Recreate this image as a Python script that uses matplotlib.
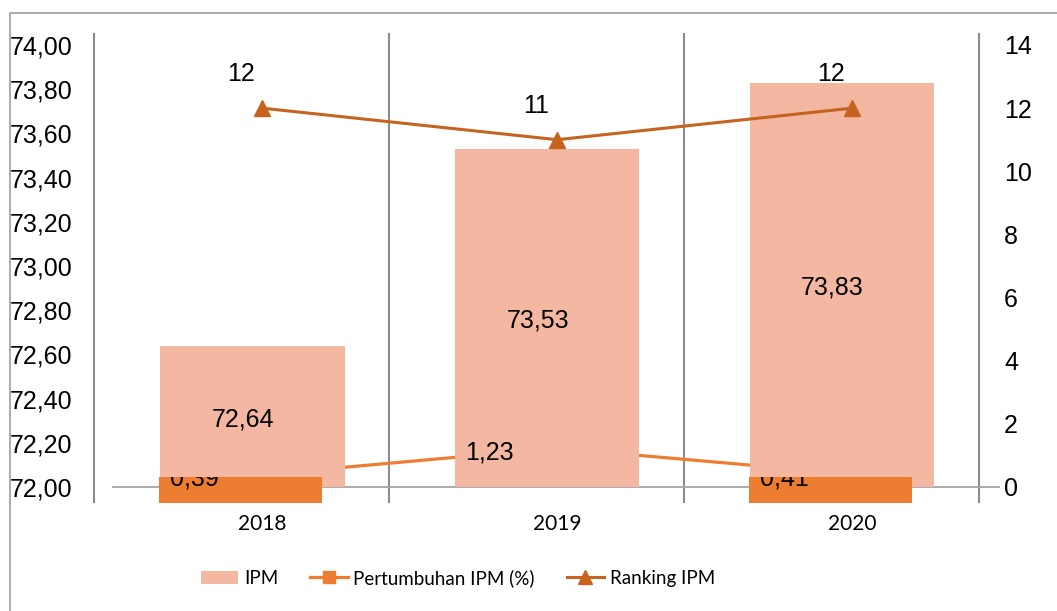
import matplotlib
matplotlib.use('Agg')
import matplotlib.pyplot as plt
from matplotlib.lines import Line2D
from matplotlib.patches import Patch
import numpy as np

# ---- data ----
years = ['2018', '2019', '2020']
ipm = [72.64, 73.53, 73.83]
pertumbuhan = [0.39, 1.23, 0.41]
ranking = [12, 11, 12]
left_ticks = [72.0, 72.2, 72.4, 72.6, 72.8, 73.0, 73.2, 73.4, 73.6, 73.8, 74.0]
right_ticks = [0, 2, 4, 6, 8, 10, 12, 14]
box_cats = [0, 2]  # categories where the growth marker box shows below the axis

# ---- style ----
C_BAR = '#F4B8A2'
C_GROW = '#ED7D31'
C_RANK = '#C5631F'
C_GRID = '#8C8C8C'
NUM_FONT = 'Liberation Sans'
CAT_FONT = 'Lato'

W, H = 1057, 611
fig = plt.figure(figsize=(W / 100, H / 100), dpi=100)
rect = [91 / W, 108 / H, 909 / W, 470 / H]
ax_back = fig.add_axes(rect)
ax_bar = fig.add_axes(rect)
ax_front = fig.add_axes(rect)

x = np.arange(len(years))
XLIM = (-0.58, 2.5017)
for a in (ax_back, ax_bar, ax_front):
    a.set_facecolor('none')
    a.set_xlim(*XLIM)
    for s in a.spines.values():
        s.set_visible(False)
    a.tick_params(length=0)

ax_back.set_ylim(-0.507, 14.38)
ax_front.set_ylim(-0.507, 14.38)
ax_bar.set_ylim(71.928, 74.054)

# back layer: grid, axis line, growth line
for gx in [-0.57, 0.43, 1.43, 2.43]:
    ax_back.axvline(gx, color=C_GRID, lw=1.5, zorder=1)
ax_back.axhline(0, xmin=(113 - 91) / 909, xmax=1, color='#A6A6A6', lw=1.3, zorder=1)
ax_back.plot(x, pertumbuhan, color=C_GROW, lw=2.3, marker='s', ms=9, zorder=2)
ax_back.set_xticks([])
ax_back.set_yticks([])

# bar layer
ax_bar.bar(x - 0.034, np.array(ipm) - 72, bottom=72, width=0.627, color=C_BAR, zorder=2)
ax_bar.set_xticks([])
ax_bar.set_yticks(left_ticks)
ax_bar.set_yticklabels([f"{v:.2f}".replace('.', ',') for v in left_ticks],
                       fontsize=18, family=NUM_FONT)
ax_bar.tick_params(axis='y', pad=13.5)
for i, v in enumerate(ipm):
    ax_bar.annotate(f"{v:.2f}".replace('.', ','), (x[i], (72 + v) / 2),
                    xytext=(-14, -2), textcoords='offset points',
                    ha='center', va='center', fontsize=18, family=NUM_FONT, zorder=5)

# front layer
boxes = ax_front.bar([x[i] - 0.073 for i in box_cats], 0.824, bottom=-0.507,
                     width=0.5525, color=C_GROW, zorder=1)
box_map = {c: b for c, b in zip(box_cats, boxes)}
ax_front.plot(x, ranking, color=C_RANK, lw=2.2, marker='^', ms=12, zorder=3)
for i, v in enumerate(ranking):
    ax_front.annotate(str(v), (x[i], v), xytext=(-15, 24.5), textcoords='offset points',
                      ha='center', va='center', fontsize=18, family=NUM_FONT, zorder=5)
for i, v in enumerate(pertumbuhan):
    t = ax_front.annotate(f"{v:.2f}".replace('.', ','), (x[i], v), xytext=(-49, -3),
                          textcoords='offset points', ha='center', va='center',
                          fontsize=18, family=NUM_FONT, zorder=5)
    if i in box_map:
        t.set_clip_path(box_map[i])

ax_front.set_xticks(x)
ax_front.set_xticklabels(years, fontsize=15, family=CAT_FONT)
ax_front.tick_params(axis='x', pad=8)
ax_front.yaxis.tick_right()
ax_front.set_yticks(right_ticks)
ax_front.set_yticklabels([str(v) for v in right_ticks], fontsize=18, family=NUM_FONT)
ax_front.tick_params(axis='y', pad=3)

# outer frame
fig.add_artist(Line2D([10 / W, 10 / W, 1], [0, 1 - 13 / H, 1 - 13 / H],
                      transform=fig.transFigure, color='#A0A0A0', lw=1.2))

# legend
handles = [
    Patch(facecolor=C_BAR, edgecolor='none'),
    Line2D([], [], color=C_GROW, lw=2.3, marker='s', ms=9),
    Line2D([], [], color=C_RANK, lw=2.2, marker='^', ms=10),
]
labels = ['IPM', 'Pertumbuhan IPM (%)', 'Ranking IPM']
fig.legend(handles, labels, loc='center', bbox_to_anchor=(458 / W, 1 - 578 / H),
           ncol=3, frameon=False, prop={'family': CAT_FONT, 'size': 13.5},
           handlelength=2.0, handletextpad=0.3, columnspacing=1.7)

fig.savefig('out.png', dpi=100)
